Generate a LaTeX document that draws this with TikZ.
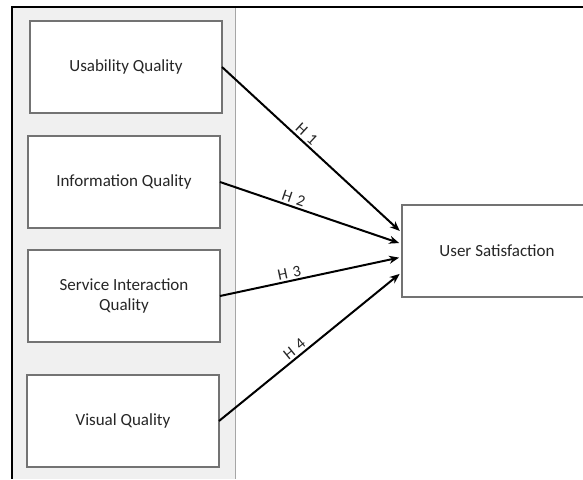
\documentclass[tikz,border=0pt]{standalone}
\usepackage{fontspec}
\setmainfont{Carlito}
\usetikzlibrary{arrows.meta}

\begin{document}
\begin{tikzpicture}[x=1pt,y=-1pt,inner sep=0pt,outer sep=0pt,
qualbox/.style={draw=black!55,fill=white,rectangle,line width=1.2pt,minimum width=192pt,minimum height=92pt,align=center,font=\fontsize{17}{20}\selectfont,text=black!85},
hyp/.style={-{Stealth[length=10pt,width=8pt]},line width=2pt,shorten >=3pt},
hlabel/.style={sloped,above=3pt,font=\fontsize{16}{18}\selectfont,text=black!85}]

\clip (0,0) rectangle (583,479);
\fill[black!6] (12,7) rectangle (235,479);
\draw[black!35,line width=1pt] (235,7) -- (235,479);
\draw[line width=2.2pt] (583,7) -- (12,7) -- (12,479);

\draw (126,67) node[qualbox] (uq) {Usability Quality};
\draw (124,182) node[qualbox] (iq) {Information Quality};
\draw (124,296) node[qualbox] (sq) {Service Interaction\\Quality};
\draw (123,421) node[qualbox] (vq) {Visual Quality};
\draw (502,251) node[qualbox,minimum width=200pt] (us) {\hspace*{-10pt}User Satisfaction};

\draw[hyp] (uq.east) -- ([yshift=18pt]us.west) node[hlabel,pos=0.44] {H\,\,1};
\draw[hyp] (iq.east) -- ([yshift=7pt]us.west) node[hlabel,pos=0.39] {H\,\,2};
\draw[hyp] (sq.east) -- ([yshift=-6pt]us.west) node[hlabel,pos=0.39] {H\,\,3};
\draw[hyp] (vq.east) -- ([yshift=-21pt]us.west) node[hlabel,pos=0.44] {H\,\,4};
\end{tikzpicture}
\end{document}
